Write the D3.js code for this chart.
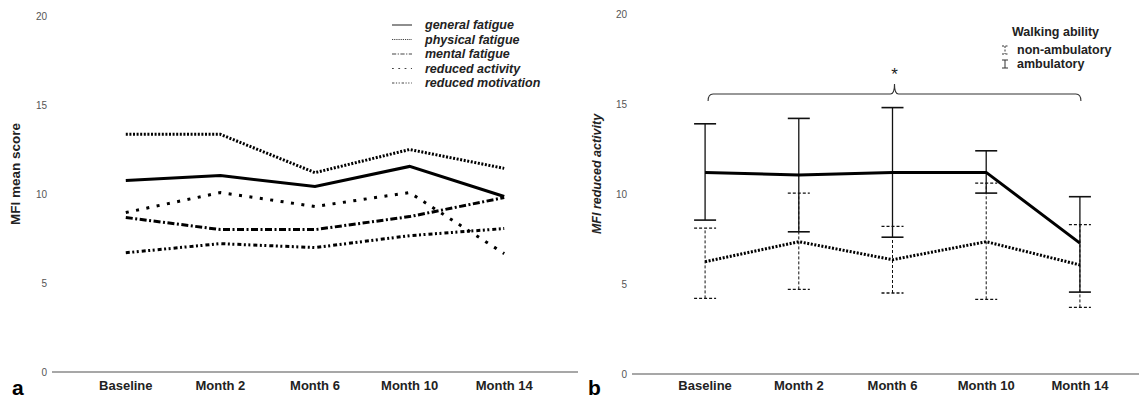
<!DOCTYPE html>
<html>
<head>
<meta charset="utf-8">
<script src="https://cdn.jsdelivr.net/npm/d3@7"></script>
<style>
  body { margin: 0; background: #fff; }
  svg { display: block; font-family: Arial, "Liberation Sans", sans-serif; }
</style>
</head>
<body>
<svg id="chart" width="1139" height="401"></svg>
<script>
// カテゴリ(時点)
const timepoints = ["Baseline", "Month 2", "Month 6", "Month 10", "Month 14"];
const yTicks = [0, 5, 10, 15, 20];

// パネル a: MFI 各下位尺度の平均値
const generalFatigue    = [10.76, 11.04, 10.42, 11.55, 9.86];
const physicalFatigue   = [13.35, 13.35, 11.2, 12.5, 11.44];
const mentalFatigue     = [8.68, 8.0, 8.0, 8.73, 9.8];
const reducedActivity   = [8.96, 10.08, 9.3, 10.08, 6.65];
const reducedMotivation = [6.7, 7.21, 6.99, 7.66, 8.06];

// パネル b: reduced activity (歩行能力別) 平均値とエラーバー
const ambMean     = [11.2, 11.05, 11.2, 11.2, 7.27];
const ambLower    = [8.55, 7.9, 7.6, 10.05, 4.55];
const ambUpper    = [13.9, 14.2, 14.8, 12.4, 9.85];
const nonAmbMean  = [6.24, 7.35, 6.35, 7.35, 6.06];
const nonAmbLower = [4.2, 4.7, 4.5, 4.15, 3.7];
const nonAmbUpper = [8.1, 10.05, 8.2, 10.6, 8.3];

const svg = d3.select("#chart");

// 線種の定義
const styles = {
    general:    {dash: null,          w: 3},
    physical:   {dash: "2,1.6",       w: 3},
    mental:     {dash: "7,2.5,2,2.5", w: 3},
    activity:   {dash: "3,7.5",       w: 3},
    motivation: {dash: "4,2.5,2,2.5,2,3", w: 3}
};

// 軸を描く関数
function drawAxes(g, x, y, axisX0, axisX1, tickRight) {
    g.append("line")
        .attr("x1", axisX0).attr("x2", axisX1)
        .attr("y1", y(0)).attr("y2", y(0))
        .attr("stroke", "#8a8a8a").attr("stroke-width", 1.6);

    g.selectAll(".ytick")
        .data(yTicks)
        .enter()
        .append("text")
        .attr("x", tickRight)
        .attr("y", d => y(d) + 3.5)
        .attr("text-anchor", "end")
        .attr("font-size", "10px")
        .attr("fill", "#555")
        .text(d => d);

    g.selectAll(".xlab")
        .data(timepoints)
        .enter()
        .append("text")
        .attr("x", d => x(d))
        .attr("y", 390)
        .attr("text-anchor", "middle")
        .attr("font-size", "13px")
        .attr("font-weight", "bold")
        .attr("fill", "#222")
        .text(d => d);
}

function drawLine(g, x, y, values, st) {
    const line = d3.line()
        .x((d, i) => x(timepoints[i]))
        .y(d => y(d));
    g.append("path")
        .datum(values)
        .attr("d", line)
        .attr("fill", "none")
        .attr("stroke", "#000")
        .attr("stroke-width", st.w)
        .attr("stroke-dasharray", st.dash);
}

/*** パネル a ***/
const xA = d3.scalePoint().domain(timepoints).range([52, 578]).padding(0.78);
const yA = d3.scaleLinear().domain([0, 20]).range([372, 16]);
const gA = svg.append("g");
drawAxes(gA, xA, yA, 52, 578, 47);

const seriesA = [
    {name: "general fatigue",    values: generalFatigue,    st: styles.general},
    {name: "physical fatigue",   values: physicalFatigue,   st: styles.physical},
    {name: "mental fatigue",     values: mentalFatigue,     st: styles.mental},
    {name: "reduced activity",   values: reducedActivity,   st: styles.activity},
    {name: "reduced motivation", values: reducedMotivation, st: styles.motivation}
];
seriesA.forEach(s => drawLine(gA, xA, yA, s.values, s.st));

// 凡例
seriesA.forEach((s, i) => {
    const ly = 25 + i * 14.5;
    gA.append("line")
        .attr("x1", 392).attr("x2", 412)
        .attr("y1", ly).attr("y2", ly)
        .attr("stroke", "#444")
        .attr("stroke-width", 1.2)
        .attr("stroke-dasharray", s.st.dash ? s.st.dash.split(",").map(v => v * 0.6).join(",") : null);
    gA.append("text")
        .attr("x", 425)
        .attr("y", ly + 4)
        .attr("font-size", "12.5px")
        .attr("font-weight", "bold")
        .attr("font-style", "italic")
        .attr("fill", "#222")
        .text(s.name);
});

gA.append("text")
    .attr("transform", "translate(20,174) rotate(-90)")
    .attr("text-anchor", "middle")
    .attr("font-size", "13.5px")
    .attr("font-weight", "bold")
    .attr("fill", "#222")
    .text("MFI mean score");

gA.append("text")
    .attr("x", 12).attr("y", 395)
    .attr("font-size", "21px")
    .attr("font-weight", "bold")
    .text("a");

/*** パネル b ***/
const xB = d3.scalePoint().domain(timepoints).range([632, 1153]).padding(0.78);
const yB = d3.scaleLinear().domain([0, 20]).range([374, 14]);
const gB = svg.append("g");
drawAxes(gB, xB, yB, 632, 1139, 627);

// エラーバー
function drawErrorBars(lower, upper, dash, width) {
    timepoints.forEach((t, i) => {
        const cx = xB(t);
        gB.append("line")
            .attr("x1", cx).attr("x2", cx)
            .attr("y1", yB(lower[i])).attr("y2", yB(upper[i]))
            .attr("stroke", "#111").attr("stroke-width", width)
            .attr("stroke-dasharray", dash);
        [lower[i], upper[i]].forEach(v => {
            gB.append("line")
                .attr("x1", cx - 11).attr("x2", cx + 11)
                .attr("y1", yB(v)).attr("y2", yB(v))
                .attr("stroke", "#111").attr("stroke-width", width + 0.3)
                .attr("stroke-dasharray", dash);
        });
    });
}
drawErrorBars(nonAmbLower, nonAmbUpper, "3,2", 1);
drawErrorBars(ambLower, ambUpper, null, 1.3);

drawLine(gB, xB, yB, ambMean, {dash: null, w: 3});
drawLine(gB, xB, yB, nonAmbMean, {dash: "2,1.6", w: 3});

// 有意差の括弧
const bx0 = xB(timepoints[0]) + 3, bx1 = xB(timepoints[4]) + 1;
const bmid = xB(timepoints[2]) + 2;
const by = 94;
gB.append("path")
    .attr("d", `M${bx0},${by + 7} Q${bx0},${by} ${bx0 + 5},${by} L${bmid - 4},${by} Q${bmid},${by} ${bmid},${by - 10} Q${bmid},${by} ${bmid + 4},${by} L${bx1 - 5},${by} Q${bx1},${by} ${bx1},${by + 7}`)
    .attr("fill", "none")
    .attr("stroke", "#333")
    .attr("stroke-width", 1.1);
gB.append("text")
    .attr("x", bmid).attr("y", 80)
    .attr("text-anchor", "middle")
    .attr("font-size", "17px")
    .attr("fill", "#222")
    .text("*");

// 凡例
gB.append("text")
    .attr("x", 1012).attr("y", 36)
    .attr("font-size", "12.5px")
    .attr("font-weight", "bold")
    .attr("fill", "#222")
    .text("Walking ability");
const legendB = [
    {name: "non-ambulatory", dash: "2,1.5", y: 50},
    {name: "ambulatory",     dash: null,    y: 64}
];
legendB.forEach(d => {
    const ix = 1005;
    gB.append("path")
        .attr("d", `M${ix - 3},${d.y - 4} H${ix + 3} M${ix},${d.y - 4} V${d.y + 4} M${ix - 3},${d.y + 4} H${ix + 3}`)
        .attr("fill", "none")
        .attr("stroke", "#333")
        .attr("stroke-width", 1)
        .attr("stroke-dasharray", d.dash);
    gB.append("text")
        .attr("x", 1017).attr("y", d.y + 4)
        .attr("font-size", "12.5px")
        .attr("font-weight", "bold")
        .attr("fill", "#222")
        .text(d.name);
});

gB.append("text")
    .attr("transform", "translate(601,174) rotate(-90)")
    .attr("text-anchor", "middle")
    .attr("font-size", "12.5px")
    .attr("font-weight", "bold")
    .attr("font-style", "italic")
    .attr("fill", "#222")
    .text("MFI reduced activity");

gB.append("text")
    .attr("x", 588).attr("y", 395)
    .attr("font-size", "21px")
    .attr("font-weight", "bold")
    .text("b");
</script>
</body>
</html>
